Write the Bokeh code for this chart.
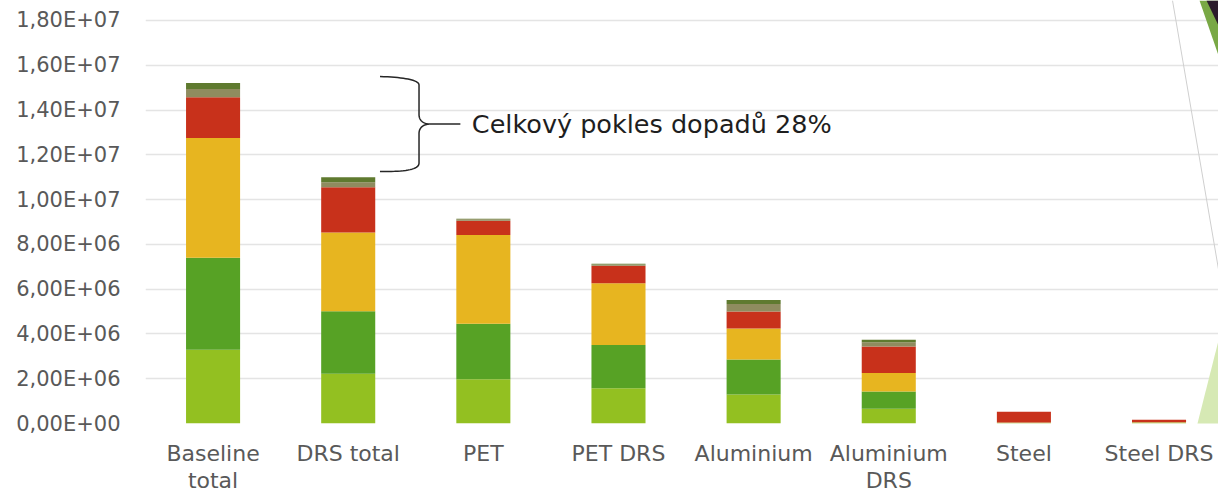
from bokeh.plotting import figure
from bokeh.models import (ColumnDataSource, FixedTicker, Range1d, Slope,
                          PolyAnnotation)
from bokeh.core.properties import value
from bokeh.embed import file_html
from bokeh.resources import INLINE
import numpy as np

categories = ["Baseline\ntotal", "DRS total", "PET", "PET DRS", "Aluminium",
              "Aluminium\nDRS", "Steel", "Steel DRS"]

# impact contributions per category (stack order bottom -> top)
s1 = [3.29e6, 2.22e6, 1.98e6, 1.58e6, 1.29e6, 0.66e6, 0.02e6, 0.03e6]
s2 = [4.11e6, 2.79e6, 2.47e6, 1.93e6, 1.57e6, 0.77e6, 0.01e6, 0.02e6]
s3 = [5.35e6, 3.52e6, 3.97e6, 2.75e6, 1.38e6, 0.82e6, 0.01e6, 0.01e6]
s4 = [1.82e6, 2.02e6, 0.64e6, 0.79e6, 0.76e6, 1.19e6, 0.48e6, 0.11e6]
s5 = [0.37e6, 0.22e6, 0.06e6, 0.05e6, 0.34e6, 0.19e6, 0.00e6, 0.00e6]
s6 = [0.27e6, 0.23e6, 0.03e6, 0.03e6, 0.18e6, 0.11e6, 0.00e6, 0.00e6]

series_names = ["s1", "s2", "s3", "s4", "s5", "s6"]
colors = ["#93C021", "#57A225", "#E7B520", "#C8311B", "#8F8C5F", "#5F7A2F"]

y_ticks = [i * 2e6 for i in range(10)]
annotation_text = "Celkový pokles dopadů 28%"

x = list(range(len(categories)))
data = dict(x=x, s1=s1, s2=s2, s3=s3, s4=s4, s5=s5, s6=s6)
src = ColumnDataSource(data)
totals = [sum(v) for v in zip(s1, s2, s3, s4, s5, s6)]

FONT = "DejaVu Sans"

p = figure(width=1218, height=498, output_backend="svg", toolbar_location=None,
           x_range=Range1d(-0.5, 7.44), y_range=Range1d(0, 18.893e6),
           min_border_left=145, min_border_right=0, min_border_top=0,
           min_border_bottom=75)
p.outline_line_color = None
p.background_fill_color = "white"
p.border_fill_color = "white"

p.vbar_stack(series_names, x="x", width=0.4, color=colors, source=src,
             line_color=None)

p.xaxis.ticker = FixedTicker(ticks=x)
p.xaxis.major_label_overrides = {i: c for i, c in enumerate(categories)}
p.xaxis.axis_line_color = None
p.xaxis.major_tick_line_color = None
p.xaxis.major_tick_out = 0
p.xaxis.major_tick_in = 0
p.xaxis.minor_tick_line_color = None
p.xaxis.major_label_text_font = FONT
p.xaxis.major_label_text_font_size = "22px"
p.xaxis.major_label_text_color = "#595959"
p.xaxis.major_label_standoff = 17
p.xaxis.major_label_text_line_height = 1.1

p.yaxis.ticker = FixedTicker(ticks=y_ticks)
p.yaxis.major_label_overrides = {t: f"{t:.2E}".replace(".", ",") for t in y_ticks}
p.yaxis.axis_line_color = None
p.yaxis.major_tick_line_color = None
p.yaxis.major_tick_out = 0
p.yaxis.major_tick_in = 0
p.yaxis.minor_tick_line_color = None
p.yaxis.major_label_text_font = FONT
p.yaxis.major_label_text_font_size = "21px"
p.yaxis.major_label_text_color = "#595959"
p.yaxis.major_label_standoff = 25

p.xgrid.grid_line_color = None
p.ygrid.ticker = FixedTicker(ticks=y_ticks)
p.ygrid.grid_line_color = "#e4e4e4"
p.ygrid.grid_line_width = 1.5

# curly brace annotation between the two totals
y_top = totals[0] + 0.29e6
y_bot = totals[1] + 0.25e6
y_mid = (y_top + y_bot) / 2
xl, xv, xc, xe = 1.235, 1.524, 1.605, 1.83
dy = (y_top - y_bot)

def bez(p0, p1, p2, p3, n=20):
    t = np.linspace(0, 1, n)
    bx = ((1-t)**3)*p0[0] + 3*((1-t)**2)*t*p1[0] + 3*(1-t)*t*t*p2[0] + t**3*p3[0]
    by = ((1-t)**3)*p0[1] + 3*((1-t)**2)*t*p1[1] + 3*(1-t)*t*t*p2[1] + t**3*p3[1]
    return list(bx), list(by)

xs, ys = [], []
segs = [
    bez((xl, y_top), (xl + 0.19, y_top - 0.01*dy), (xv, y_top - 0.04*dy), (xv, y_top - 0.09*dy)),
    bez((xv, y_top - 0.09*dy), (xv, y_mid + 0.25*dy), (xv, y_mid + 0.2*dy), (xv, y_mid + 0.1*dy)),
    bez((xv, y_mid + 0.1*dy), (xv, y_mid + 0.03*dy), (xv + 0.04, y_mid), (xc, y_mid)),
    bez((xc, y_mid), (xv + 0.04, y_mid), (xv, y_mid - 0.03*dy), (xv, y_mid - 0.1*dy)),
    bez((xv, y_mid - 0.1*dy), (xv, y_mid - 0.2*dy), (xv, y_bot + 0.2*dy), (xv, y_bot + 0.09*dy)),
    bez((xv, y_bot + 0.09*dy), (xv, y_bot + 0.02*dy), (xl + 0.19, y_bot), (xl, y_bot)),
]
for sx, sy in segs:
    xs += sx
    ys += sy
p.line(xs, ys, line_color="#262626", line_width=1.5)
p.line([xc, xe], [y_mid, y_mid], line_color="#262626", line_width=1.5)
p.text(x=[1.915], y=[y_mid], text=[annotation_text], text_font=value(FONT),
       text_font_size="25.5px", text_color="#1e1e1e", text_baseline="middle",
       text_align="left")

# slide decoration on the right edge
p.add_layout(Slope(gradient=-35.28e6, y_intercept=269.37e6, line_color="#cfcfcf",
                   line_width=1))
p.add_layout(PolyAnnotation(xs=[1178, 1218, 1218], ys=[498, 340, 498],
                            xs_units="canvas", ys_units="canvas",
                            fill_color="#d6e9b4", fill_alpha=1, line_color=None,
                            level="underlay"))
p.add_layout(PolyAnnotation(xs=[1199, 1218, 1218], ys=[0, 0, 55],
                            xs_units="canvas", ys_units="canvas",
                            fill_color="#79a845", fill_alpha=1, line_color=None))
p.add_layout(PolyAnnotation(xs=[1206, 1218, 1218], ys=[0, 0, 25],
                            xs_units="canvas", ys_units="canvas",
                            fill_color="#2b1b2b", fill_alpha=1, line_color=None))

open("out.html", "w").write(file_html(p, INLINE))
